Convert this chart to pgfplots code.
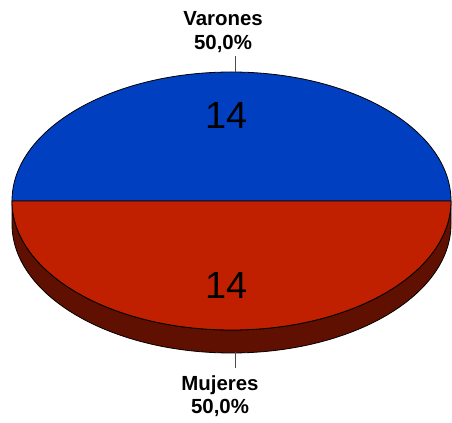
\documentclass[border=0pt]{standalone}
\usepackage{pgfplots}
\usepackage{pgfplotstable}
\pgfplotsset{compat=1.18}
\usepackage{fontspec}
\setmainfont{Liberation Sans}[BoldFont={Liberation Sans Bold}]
\newfontfamily\lblfont{Liberation Sans Bold}
\definecolor{vblue}{RGB}{0,64,192}
\definecolor{mred}{RGB}{192,32,0}
\definecolor{mside}{RGB}{96,16,0}
\pgfplotstableread{
label value
Varones 14
Mujeres 14
}\piedata
\begin{document}
\begin{tikzpicture}
\pgfplotstablegetelem{0}{value}\of\piedata \let\va\pgfplotsretval
\pgfplotstablegetelem{1}{value}\of\piedata \let\vb\pgfplotsretval
\pgfmathsetmacro{\angA}{360*\va/(\va+\vb)}
\begin{axis}[
  scale only axis, width=452bp, height=423bp,
  xmin=0, xmax=452, ymin=0, ymax=423,
  hide axis, clip=false,
]
\path (rel axis cs:0,0) (rel axis cs:1,1);
% side (depth) of the lower half
\filldraw[fill=mside, draw=black, line width=0.8pt]
  (axis cs:12,222) -- (axis cs:12,199)
  arc[start angle=180, end angle=360, x radius=219.5, y radius=129]
  -- (axis cs:451,222)
  arc[start angle=360, end angle=180, x radius=219.5, y radius=129] -- cycle;
% Varones slice (top half)
\filldraw[fill=vblue, draw=black, line width=0.8pt]
  (axis cs:231.5,222) -- (axis cs:451,222)
  arc[start angle=0, end angle=\angA, x radius=219.5, y radius=129] -- cycle;
% Mujeres slice (bottom half)
\filldraw[fill=mred, draw=black, line width=0.8pt]
  (axis cs:231.5,222) -- (axis cs:12,222)
  arc[start angle=\angA, end angle=360, x radius=219.5, y radius=129] -- cycle;
% values
\node[font=\fontsize{38}{40}\selectfont, anchor=center] at (axis cs:227,308) {\va};
\node[font=\fontsize{38}{40}\selectfont, anchor=center] at (axis cs:227,138) {\vb};
% leader lines
\draw[black!70, line width=0.6pt] (axis cs:235,351) -- (axis cs:235,367);
\draw[black!70, line width=0.6pt] (axis cs:235,71) -- (axis cs:235,55);
% labels
\node[font=\lblfont\fontsize{20.5}{23.5}\selectfont, align=center, anchor=center] at (axis cs:223,391) {Varones\\50,0\%};
\node[font=\lblfont\fontsize{20.5}{23.5}\selectfont, align=center, anchor=center] at (axis cs:220,27) {Mujeres\\50,0\%};
\end{axis}
\end{tikzpicture}
\end{document}
